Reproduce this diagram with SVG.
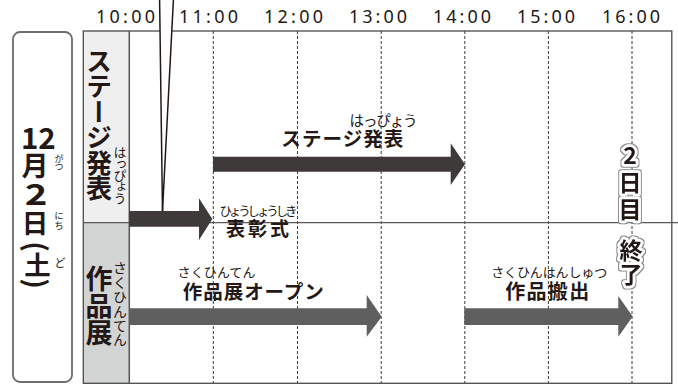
<svg xmlns="http://www.w3.org/2000/svg" width="678" height="385" viewBox="0 0 678 385">
<style>
.t{font-family:"Noto Sans CJK JP","Noto Sans",sans-serif;fill:#231815}
.b{font-weight:700}
.time{font-family:"Noto Sans","Liberation Sans",sans-serif;font-size:18px;fill:#231815}
.v{writing-mode:vertical-rl}
.dash{stroke:#3a3a3a;stroke-width:1;stroke-dasharray:3 2;fill:none}
.frame{stroke:#4a4a4a;stroke-width:1.3;fill:none}
.dark{fill:#3e3a39}
.mid{fill:#5f5f5f}
.halo{stroke:#ffffff;stroke-width:5.5;stroke-linejoin:round;paint-order:stroke fill;fill:#231815}
</style>
<defs>
<filter id="outline" x="-30%" y="-30%" width="160%" height="160%">
<feMorphology in="SourceAlpha" operator="dilate" radius="1.1" result="d"/>
<feFlood flood-color="#8a8a8a"/>
<feComposite in2="d" operator="in" result="g"/>
<feMerge><feMergeNode in="g"/><feMergeNode in="SourceGraphic"/></feMerge>
</filter>
</defs>
<rect width="678" height="385" fill="#ffffff"/>

<g id="time-axis">
<text class="time" x="96" y="23.3" textLength="59" lengthAdjust="spacing">10:00</text>
<text class="time" x="179" y="23.3" textLength="59" lengthAdjust="spacing">11:00</text>
<text class="time" x="264" y="23.3" textLength="59" lengthAdjust="spacing">12:00</text>
<text class="time" x="349" y="23.3" textLength="58" lengthAdjust="spacing">13:00</text>
<text class="time" x="433" y="23.3" textLength="58" lengthAdjust="spacing">14:00</text>
<text class="time" x="517" y="23.3" textLength="58" lengthAdjust="spacing">15:00</text>
<text class="time" x="602" y="23.3" textLength="58" lengthAdjust="spacing">16:00</text>
</g>

<g id="date">
<rect x="13" y="32" width="59" height="350" rx="7" fill="#ffffff" stroke="#6d6d6d" stroke-width="1.8"/>
<text class="t b" x="38.3" y="149" font-size="29.5" text-anchor="middle">12</text>
<text class="t b" x="35" y="175.5" font-size="27" text-anchor="middle">月</text>
<text class="t v" x="59" y="154" font-size="9" letter-spacing="-1.3">がつ</text>
<text class="t b" x="0" y="0" font-size="29.5" text-anchor="middle" transform="translate(36,205) scale(1.3,1)">2</text>
<text class="t b" x="35" y="232.5" font-size="26.5" text-anchor="middle">日</text>
<text class="t v" x="59" y="211" font-size="9.5" letter-spacing="0.6">にち</text>
<text class="t b" x="0" y="0" font-size="28" text-anchor="middle" dominant-baseline="central" transform="translate(37.5,246.5) rotate(90)">(</text>
<text class="t b" x="37.5" y="275" font-size="26.5" text-anchor="middle">土</text>
<text class="t b" x="0" y="0" font-size="28" text-anchor="middle" dominant-baseline="central" transform="translate(37.5,283.5) rotate(90)">)</text>
<text class="t" x="60" y="267" font-size="11" text-anchor="middle">ど</text>
</g>

<g id="grid">
<rect x="83.3" y="31" width="46" height="191.7" fill="#efefef"/>
<rect x="83.3" y="222.7" width="46" height="160.6" fill="#d3d4d4"/>
<line class="dash" x1="213.3" y1="31" x2="213.3" y2="383"/>
<line class="dash" x1="297.5" y1="31" x2="297.5" y2="383"/>
<line class="dash" x1="381.2" y1="31" x2="381.2" y2="383"/>
<line class="dash" x1="464.8" y1="31" x2="464.8" y2="383"/>
<line class="dash" x1="548.4" y1="31" x2="548.4" y2="383"/>
<line class="dash" x1="632" y1="31" x2="632" y2="383"/>
<rect class="frame" x="83.3" y="31" width="588.5" height="352.3"/>
<line x1="83.3" y1="222.7" x2="678" y2="222.7" stroke="#5a5a5a" stroke-width="1.2"/>
<line x1="129.3" y1="31" x2="129.3" y2="383.3" stroke="#555" stroke-width="1.5"/>
</g>

<g id="row-stage">
<text class="t b v" x="99" y="48" font-size="26" letter-spacing="-0.5">ステージ発表</text>
<text class="t v" x="120" y="146" font-size="13" letter-spacing="-1.7">はっぴょう</text>
</g>

<g id="row-exhibit">
<text class="t b v" x="99" y="265" font-size="27">作品展</text>
<text class="t v" x="120" y="261" font-size="14" letter-spacing="0.4">さくひんてん</text>
</g>

<g id="connectors">
<polygon points="159.6,0 173.4,0 162.5,211" fill="#ffffff"/>
<line x1="159.6" y1="0" x2="162.5" y2="211" stroke="#231815" stroke-width="1.5"/>
<line x1="173.4" y1="0" x2="162.5" y2="211" stroke="#231815" stroke-width="1.5"/>
<polygon class="dark" points="213,156.7 450.7,156.7 450.7,143.3 465,164.2 450.7,185 450.7,171.7 213,171.7"/>
<polygon class="dark" points="129.3,211 199,211 199,198.3 212.3,219 199,240 199,226.7 129.3,226.7"/>
<polygon class="mid" points="129.3,308.3 366.7,308.3 366.7,295 381.7,316.7 366.7,336.7 366.7,325 129.3,325"/>
<polygon class="mid" points="464.3,308.3 618.3,308.3 618.3,296 632.7,316.6 618.3,336.7 618.3,325 464.3,325"/>
</g>

<g id="stage-label">
<text class="t" x="349.5" y="125.5" font-size="14.5" textLength="68" lengthAdjust="spacing">はっぴょう</text>
<text class="t b" x="281.3" y="145.5" font-size="19.5" textLength="122" lengthAdjust="spacing">ステージ発表</text>
</g>

<g id="award-label">
<text class="t" x="219.5" y="216" font-size="12.5" textLength="78" lengthAdjust="spacing">ひょうしょうしき</text>
<text class="t b" x="226" y="235.5" font-size="19" textLength="63" lengthAdjust="spacing">表彰式</text>
</g>

<g id="open-label">
<text class="t" x="177.5" y="276.5" font-size="13" textLength="78" lengthAdjust="spacing">さくひんてん</text>
<text class="t b" x="182.8" y="299" font-size="19.5" textLength="141" lengthAdjust="spacing">作品展オープン</text>
</g>

<g id="carryout-label">
<text class="t" x="491.2" y="276.5" font-size="13" textLength="116" lengthAdjust="spacing">さくひんはんしゅつ</text>
<text class="t b" x="505.2" y="299" font-size="20" textLength="84" lengthAdjust="spacing">作品搬出</text>
</g>

<g id="day-end" class="t b halo" font-size="23" text-anchor="middle" filter="url(#outline)">
<text x="630" y="164">2</text>
<text x="630" y="190.5">日</text>
<text x="630" y="217.5">目</text>
<text x="631" y="259">終</text>
<text x="631" y="283">了</text>
</g>
</svg>
